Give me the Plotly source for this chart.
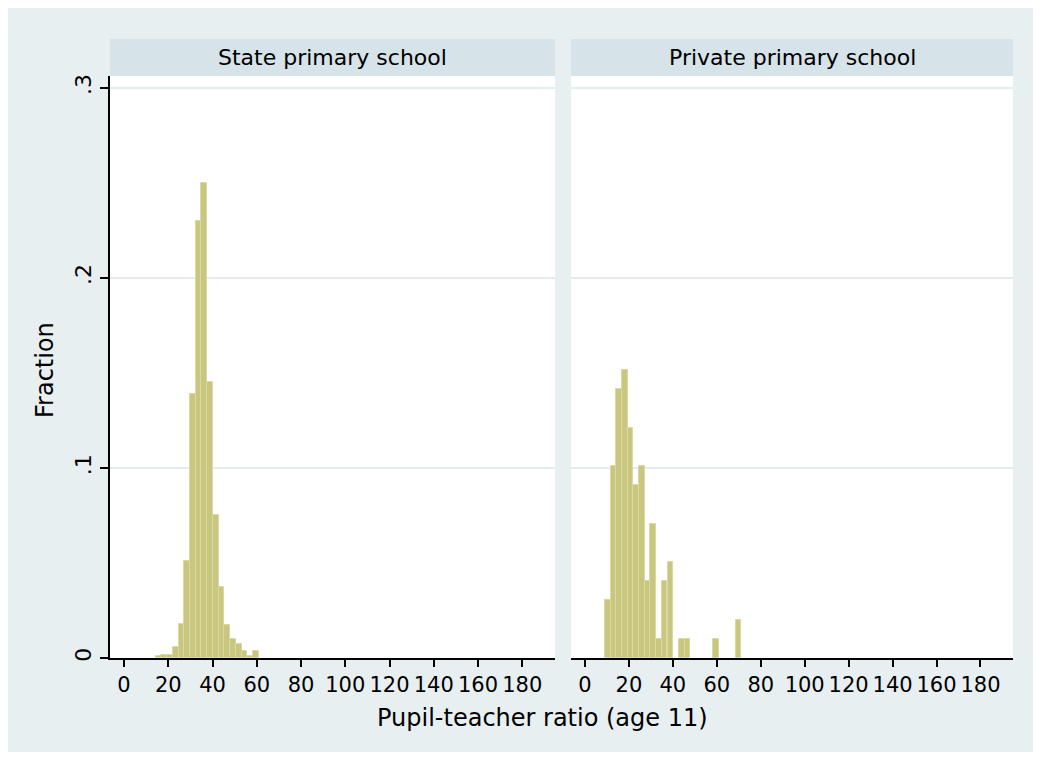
import plotly.graph_objects as go

# ---- data ----
bin_centers = [10.39, 12.98, 15.57, 18.16, 20.74, 23.33, 25.92, 28.51,
               31.10, 33.68, 36.27, 38.86, 41.45, 44.03, 46.62, 49.21,
               51.80, 54.39, 56.97, 59.56, 62.15, 64.74, 67.32, 69.91]
state_frac = [0, 0, 0.001, 0.0015, 0.0015, 0.006, 0.018, 0.051,
              0.139, 0.230, 0.250, 0.145, 0.075, 0.0375, 0.0175, 0.010,
              0.0072, 0.0037, 0.001, 0.0037, 0, 0, 0, 0]
private_frac = [0.0303, 0.101, 0.1414, 0.1515, 0.1212, 0.0909, 0.101, 0.0404,
                0.0707, 0.0101, 0.0404, 0.0505, 0, 0.0101, 0.0101, 0,
                0, 0, 0, 0.0101, 0, 0, 0, 0.0202]
panel_titles = ["State primary school", "Private primary school"]
x_ticks = [0, 20, 40, 60, 80, 100, 120, 140, 160, 180]
y_ticks = [0, 0.1, 0.2, 0.3]
y_ticktext = ["0", ".1", ".2", ".3"]
x_title = "Pupil-teacher ratio (age 11)"
y_title = "Fraction"

# ---- style ----
BIN_W = 2.5875
FONT = "DejaVu Sans"
BAR_FILL = "#c9c67f"
BAR_LINE = "#dad9a2"
OUTER = "#e7eff1"
STRIP = "#d6e3e8"
GRID = "#e2edf0"

OFF = 8  # page body margin
W, H = 1043 - OFF, 758 - OFF
ML = 110 - OFF
MT = 76 - OFF
MR = W - (1013 - OFF)
MB = H - (658 - OFF)
PW = W - ML - MR
PH = H - MT - MB


def px_x(p):
    return (p - OFF - ML) / PW


def px_y(p):
    return (H - MB - (p - OFF)) / PH


left_dom = [0, px_x(555)]
right_dom = [px_x(571), 1]


def nz(vals):
    return [v if v else None for v in vals]


fig = go.Figure()
fig.add_trace(go.Bar(x=bin_centers, y=nz(state_frac), width=BIN_W,
                     marker=dict(color=BAR_FILL, line=dict(color=BAR_LINE, width=1)),
                     xaxis="x", yaxis="y", showlegend=False))
fig.add_trace(go.Bar(x=bin_centers, y=nz(private_frac), width=BIN_W,
                     marker=dict(color=BAR_FILL, line=dict(color=BAR_LINE, width=1)),
                     xaxis="x2", yaxis="y2", showlegend=False))

xr = [-6.35, 194.8]
yr = [0, 0.3062]
xcommon = dict(range=xr, tickmode="array", tickvals=x_ticks, ticks="outside",
               ticklen=7, tickwidth=2, tickcolor="black", showline=True,
               linecolor="black", linewidth=2, showgrid=False, zeroline=False,
               tickangle=0,
               tickfont=dict(size=21, color="black", family=FONT))

shapes = [
    dict(type="rect", xref="paper", yref="paper", layer="below",
         x0=px_x(8), x1=px_x(1033), y0=px_y(752), y1=px_y(8),
         fillcolor=OUTER, line=dict(width=0)),
    dict(type="rect", xref="paper", yref="paper", layer="below",
         x0=left_dom[0], x1=left_dom[1], y0=0, y1=1,
         fillcolor="white", line=dict(width=0)),
    dict(type="rect", xref="paper", yref="paper", layer="below",
         x0=right_dom[0], x1=right_dom[1], y0=0, y1=1,
         fillcolor="white", line=dict(width=0)),
    dict(type="rect", xref="paper", yref="paper", layer="below",
         x0=left_dom[0], x1=left_dom[1], y0=1, y1=px_y(39),
         fillcolor=STRIP, line=dict(width=0)),
    dict(type="rect", xref="paper", yref="paper", layer="below",
         x0=right_dom[0], x1=right_dom[1], y0=1, y1=px_y(39),
         fillcolor=STRIP, line=dict(width=0)),
]

annotations = [
    dict(text=panel_titles[0], x=(left_dom[0] + left_dom[1]) / 2, y=px_y(57.5),
         xref="paper", yref="paper", showarrow=False, xanchor="center",
         yanchor="middle", font=dict(size=22, color="black", family=FONT)),
    dict(text=panel_titles[1], x=(right_dom[0] + right_dom[1]) / 2, y=px_y(57.5),
         xref="paper", yref="paper", showarrow=False, xanchor="center",
         yanchor="middle", font=dict(size=22, color="black", family=FONT)),
    dict(text=x_title, x=px_x(542), y=px_y(718), xref="paper", yref="paper",
         showarrow=False, yanchor="middle", xanchor="center",
         font=dict(size=24, color="black", family=FONT)),
    dict(text=y_title, x=px_x(45), y=px_y(370), xref="paper", yref="paper",
         showarrow=False, textangle=-90, xanchor="center", yanchor="middle",
         font=dict(size=24, color="black", family=FONT)),
]

fig.update_layout(
    width=W, height=H, autosize=False,
    margin=dict(l=ML, r=MR, t=MT, b=MB, pad=0),
    paper_bgcolor="white", plot_bgcolor="rgba(0,0,0,0)",
    font=dict(family=FONT, size=20, color="black"),
    barmode="overlay", bargap=0,
    xaxis=dict(domain=left_dom, anchor="y", **xcommon),
    xaxis2=dict(domain=right_dom, anchor="y2", **xcommon),
    yaxis=dict(domain=[0, 1], anchor="x", range=yr, tickmode="array",
               tickvals=y_ticks, ticktext=y_ticktext, tickangle=-90,
               ticks="outside", ticklen=8, tickwidth=2, tickcolor="black",
               showline=True, linecolor="black", linewidth=2,
               showgrid=True, gridcolor=GRID, gridwidth=2, zeroline=False,
               tickfont=dict(size=22, color="black", family=FONT)),
    yaxis2=dict(domain=[0, 1], anchor="x2", range=yr, tickmode="array",
                tickvals=y_ticks, showticklabels=False, ticks="",
                showline=False, showgrid=True, gridcolor=GRID, gridwidth=2,
                zeroline=False),
    shapes=shapes,
    annotations=annotations,
)

fig.write_html("out.html")
